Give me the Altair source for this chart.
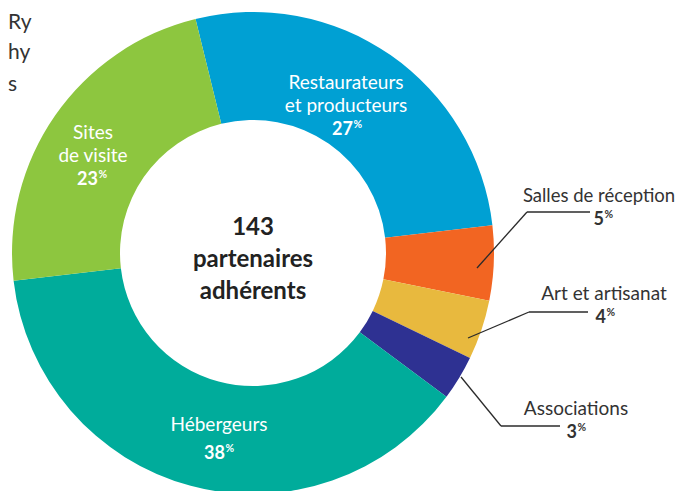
import math
import altair as alt
import pandas as pd

# ---------------- data ----------------
categories = ["Restaurateurs et producteurs", "Salles de réception", "Art et artisanat",
              "Associations", "Hébergeurs", "Sites de visite"]
percents = [27, 5, 4, 3, 38, 23]
label_lines = [["Restaurateurs", "et producteurs"], ["Salles de réception"], ["Art et artisanat"],
               ["Associations"], ["Hébergeurs"], ["Sites", "de visite"]]
center_lines = ["143", "partenaires", "adhérents"]
corner_fragments = ["Ry", "hy", "s"]

# ---------------- styles / layout (page pixels) ----------------
colors = ["#00A0D3", "#F26522", "#E8B93E", "#2E3192", "#00AC9B", "#8DC63F"]
label_colors = ["white", "#333333", "#333333", "#333333", "white", "white"]
OFF = 8
CX, CY = 253, 253
R_OUT, R_IN = 241, 133
START_DEG = -13.8

label_x = [346, 599, 604, 576, 219, 93]
label_size = [19, 18.5, 19, 19, 19, 19]
label_base = [89, 202, 300, 415, 431, 139]
line_gap = 23
num_base = [135, 225, 323, 438, 459, 185]
num_split = [353, 604, 606, 577, 225, 98]

leaders = [  # (x, y) polyline points for outside labels
    [(477, 268), (527, 212), (590, 212)],
    [(468, 338), (529, 312), (588, 312)],
    [(461, 377), (501, 426), (560, 426)],
]
center_x, center_base = 253, [235, 267, 299]
corner_x, corner_base = 8, [29, 59, 91]

FONT = "Lato"

# ---------------- build ----------------
start = math.radians(START_DEG) % (2 * math.pi)
arc_df = pd.DataFrame({"cat": categories, "pct": percents, "order": list(range(len(categories)))})

arcs = alt.Chart(arc_df).mark_arc(radius=R_OUT, radius2=R_IN).encode(
    theta=alt.Theta("pct:Q", stack=True, scale=alt.Scale(range=[start, start + 2 * math.pi])),
    order=alt.Order("order:Q"),
    color=alt.Color("cat:N", scale=alt.Scale(domain=categories, range=colors), legend=None),
    x=alt.value(CX - OFF),
    y=alt.value(CY - OFF),
)

rows = []
for i, lines in enumerate(label_lines):
    for j, t in enumerate(lines):
        rows.append({"text": t, "x": label_x[i] - OFF, "y": label_base[i] + j * line_gap - OFF,
                     "color": label_colors[i], "size": label_size[i]})
lab_df = pd.DataFrame(rows)

num_df = pd.DataFrame({
    "text": [str(p) for p in percents],
    "x": [s - OFF for s in num_split],
    "y": [b - OFF for b in num_base],
    "color": label_colors,
})
pct_df = pd.DataFrame({
    "text": ["%"] * len(percents),
    "x": [s + 0.5 - OFF for s in num_split],
    "y": [b - 7 - OFF for b in num_base],
    "color": label_colors,
})
cen_df = pd.DataFrame({"text": center_lines, "x": [center_x - OFF] * 3,
                       "y": [b - OFF for b in center_base]})
cor_df = pd.DataFrame({"text": corner_fragments, "x": [corner_x - OFF] * 3,
                       "y": [b - OFF for b in corner_base]})

seg = []
for pts in leaders:
    for (x1, y1), (x2, y2) in zip(pts[:-1], pts[1:]):
        seg.append({"x": x1 - OFF, "y": y1 - OFF, "x2": x2 - OFF, "y2": y2 - OFF})
seg_df = pd.DataFrame(seg)

X = lambda f: alt.X(f, scale=None, axis=None)
Y = lambda f: alt.Y(f, scale=None, axis=None)

rules = alt.Chart(seg_df).mark_rule(color="#2b2b2b", strokeWidth=1.3).encode(
    x=X("x:Q"), y=Y("y:Q"), x2="x2:Q", y2="y2:Q")

labels = alt.Chart(lab_df).mark_text(font=FONT, align="center", baseline="alphabetic").encode(
    x=X("x:Q"), y=Y("y:Q"), text="text:N", color=alt.Color("color:N", scale=None),
    size=alt.Size("size:Q", scale=None))

nums = alt.Chart(num_df).mark_text(font=FONT, fontSize=18, fontWeight="bold", align="right",
                                   baseline="alphabetic").encode(
    x=X("x:Q"), y=Y("y:Q"), text="text:N", color=alt.Color("color:N", scale=None))

pcts = alt.Chart(pct_df).mark_text(font=FONT, fontSize=10.5, fontWeight="bold", align="left",
                                   baseline="alphabetic").encode(
    x=X("x:Q"), y=Y("y:Q"), text="text:N", color=alt.Color("color:N", scale=None))

center = alt.Chart(cen_df).mark_text(font=FONT, fontSize=24, fontWeight="bold", align="center",
                                     baseline="alphabetic", color="#222222").encode(
    x=X("x:Q"), y=Y("y:Q"), text="text:N")

corner = alt.Chart(cor_df).mark_text(font=FONT, fontSize=21, align="left", baseline="alphabetic",
                                     color="#333333").encode(
    x=X("x:Q"), y=Y("y:Q"), text="text:N")

chart = alt.layer(arcs, rules, labels, nums, pcts, center, corner).properties(
    width=670, height=483, padding=0, autosize="none"
).configure_view(stroke=None)

chart.save("out.html", embed_options={"renderer": "svg", "actions": False})
